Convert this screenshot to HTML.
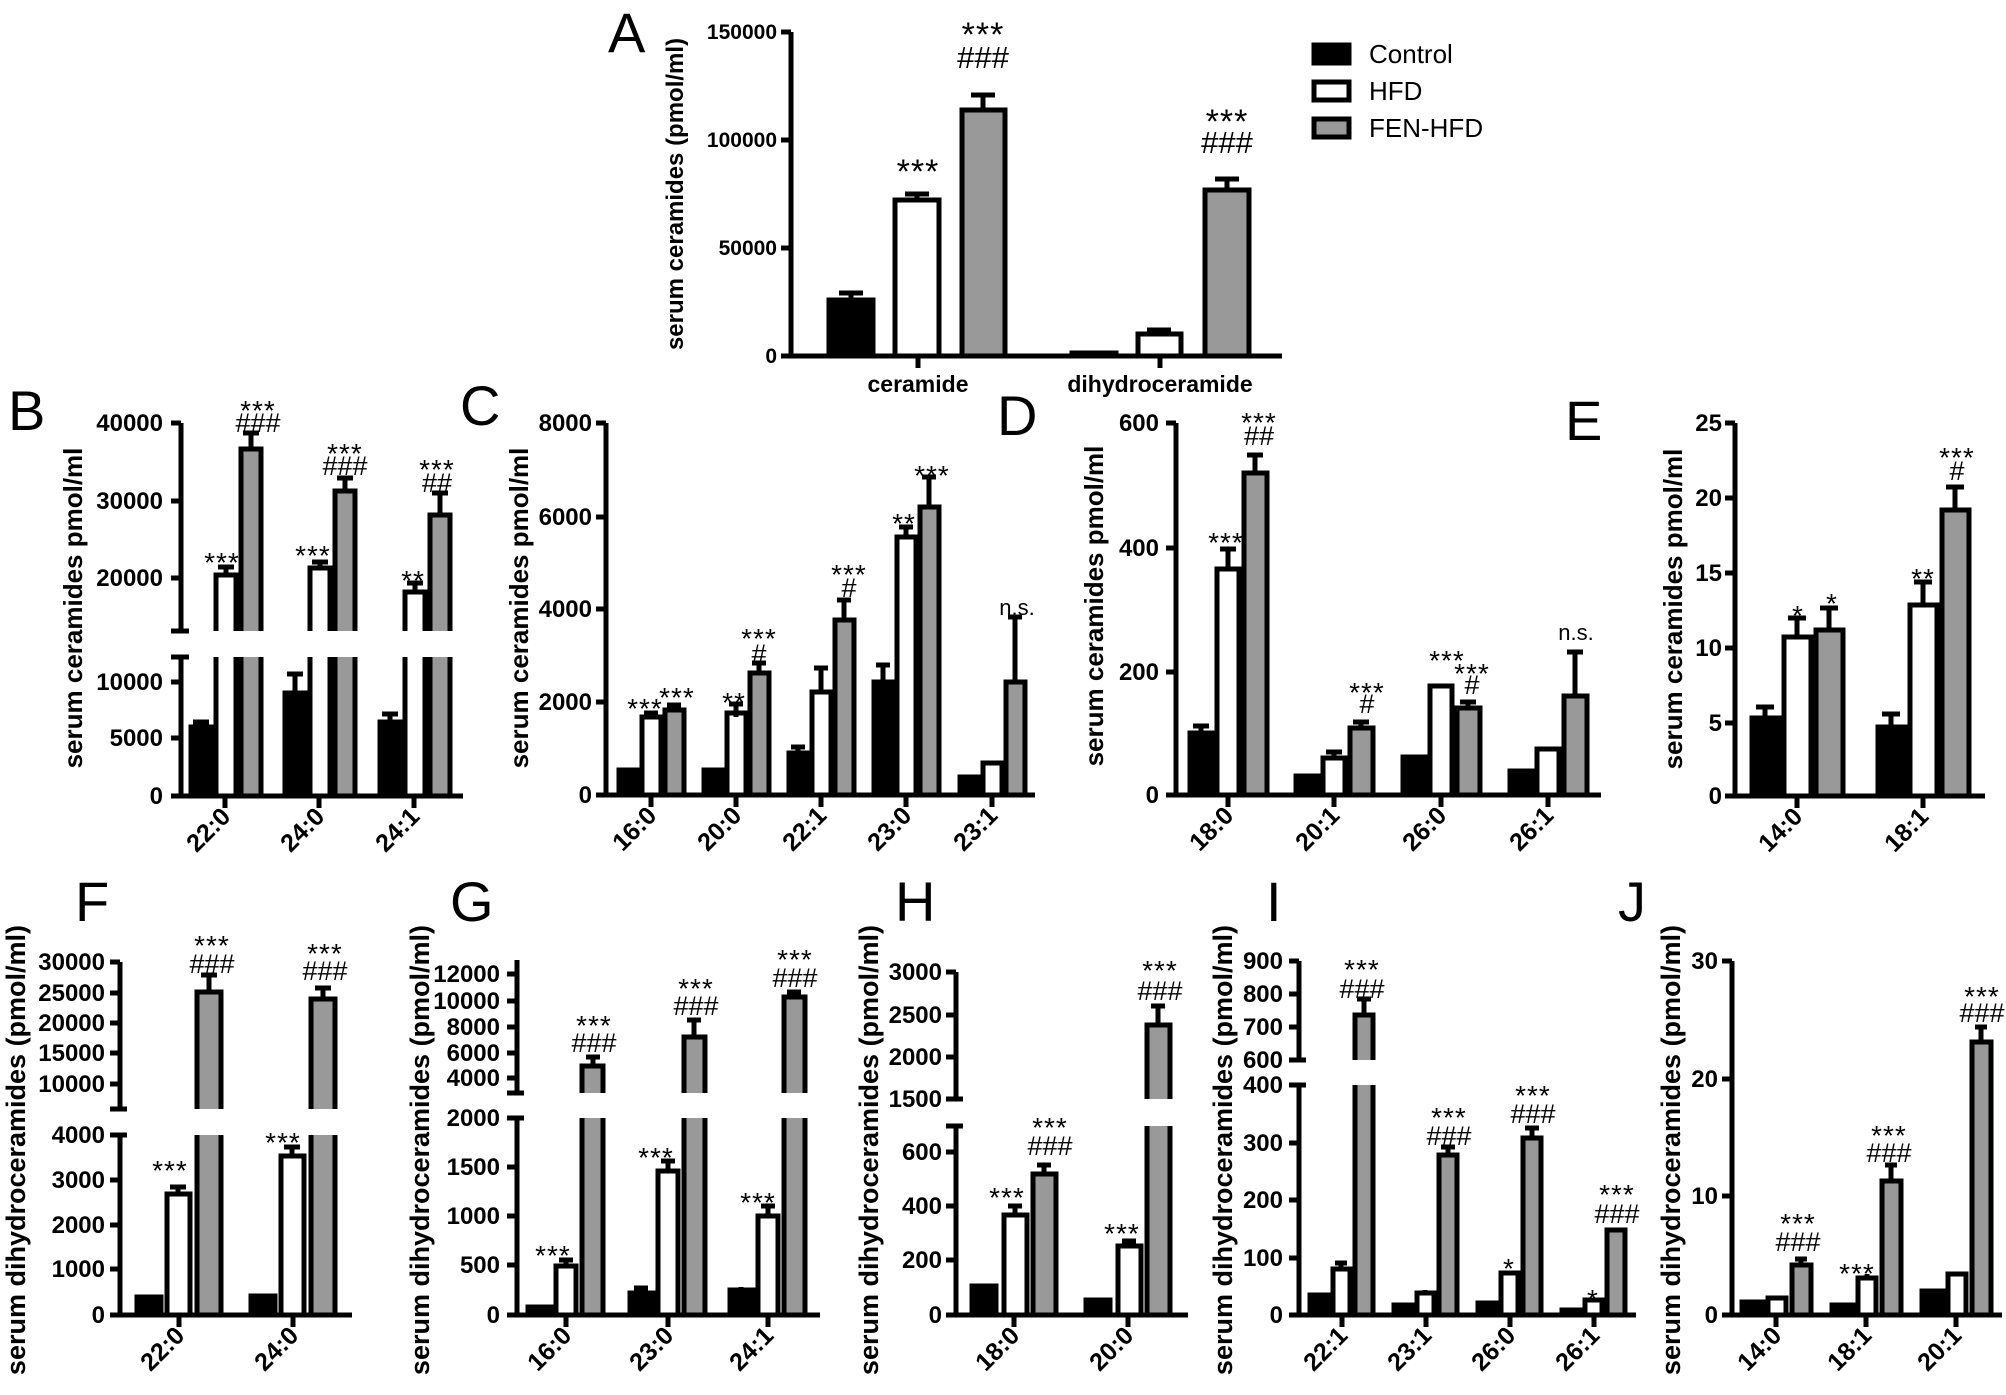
<!DOCTYPE html>
<html><head><meta charset="utf-8"><style>
html,body{margin:0;padding:0;background:#fff}
svg{display:block}
text{font-family:"Liberation Sans",Arial,sans-serif;fill:#000}
.c{fill:#000;stroke:#000;stroke-width:5}
.h{fill:#fff;stroke:#000;stroke-width:5}
.f{fill:#999;stroke:#000;stroke-width:5}
.e{stroke:#000;stroke-width:5;fill:none}
.ax{stroke:#000;stroke-width:5;fill:none}
.tl{font-size:24px;font-weight:bold;text-anchor:end}
.yt{font-size:26px;font-weight:bold;text-anchor:middle}
.yb{font-size:27px;font-weight:bold;text-anchor:middle}
.cat{font-size:25px;font-weight:bold;text-anchor:end}
.s{font-size:28px;text-anchor:middle;letter-spacing:1px}
.hs{font-size:27px;text-anchor:middle}
.L{font-size:56px}
.ns{font-size:22px;text-anchor:middle}
</style></head><body>
<svg width="2006" height="1395" viewBox="0 0 2006 1395" xmlns="http://www.w3.org/2000/svg">
<!-- ===== Panel A ===== -->
<text class="L" x="608" y="52">A</text>
<rect class="c" x="829" y="300" width="44" height="56"/>
<rect class="h" x="895" y="200" width="44" height="156"/>
<rect class="f" x="962" y="110" width="43" height="246"/>
<rect class="c" x="1072" y="353" width="44" height="3"/>
<rect class="h" x="1138" y="334" width="43" height="22"/>
<rect class="f" x="1205" y="190" width="44" height="166"/>
<path class="e" d="M851 300V293M839 293H863M917 200V194M905 194H929M983 110V95M971 95H995M1094 353V351M1159 334V330M1147 330H1171M1227 190V179M1215 179H1239"/>
<path class="ax" d="M791 32V356H1282M781 32H791M781 140H791M781 248H791M781 356H791M918 356V368M1160 356V368"/>
<text class="tl" style="font-size:21px" x="777" y="39">150000</text>
<text class="tl" style="font-size:21px" x="777" y="147">100000</text>
<text class="tl" style="font-size:21px" x="777" y="255">50000</text>
<text class="tl" style="font-size:21px" x="777" y="363">0</text>
<text style="font-size:23px;font-weight:bold;text-anchor:middle" x="918" y="392">ceramide</text>
<text style="font-size:23px;font-weight:bold;text-anchor:middle" x="1160" y="392">dihydroceramide</text>
<text class="yt" style="font-size:24px" transform="translate(683,194) rotate(-90)">serum ceramides (pmol/ml)</text>
<text class="s" style="font-size:34px" x="918" y="183">***</text>
<text class="s" style="font-size:34px" x="983" y="46">***</text>
<text class="hs" style="font-size:31px" x="983" y="68">###</text>
<text class="s" style="font-size:34px" x="1227" y="133">***</text>
<text class="hs" style="font-size:31px" x="1227" y="153">###</text>
<!-- legend -->
<rect x="1314" y="45" width="35" height="18" fill="#000" stroke="#000" stroke-width="5"/>
<rect x="1314" y="82" width="35" height="18" fill="#fff" stroke="#000" stroke-width="5"/>
<rect x="1314" y="119" width="35" height="18" fill="#999" stroke="#000" stroke-width="5"/>
<text x="1369" y="63" style="font-size:26px">Control</text>
<text x="1369" y="100" style="font-size:26px">HFD</text>
<text x="1369" y="137" style="font-size:26px">FEN-HFD</text>

<!-- ===== Panel B ===== -->
<text class="L" x="8" y="430">B</text>
<rect class="c" x="191" y="727" width="20" height="69"/>
<rect class="h" x="216" y="575" width="20" height="221"/>
<rect class="f" x="241" y="449" width="20" height="347"/>
<rect class="c" x="285" y="693" width="20" height="103"/>
<rect class="h" x="310" y="568" width="20" height="228"/>
<rect class="f" x="335" y="491" width="20" height="305"/>
<rect class="c" x="380" y="722" width="20" height="74"/>
<rect class="h" x="405" y="592" width="20" height="204"/>
<rect class="f" x="430" y="515" width="20" height="281"/>
<path class="e" d="M201 727V722M193 722H209M226 575V567M218 567H234M251 449V433M243 433H259M295 693V674M287 674H303M320 568V562M312 562H328M345 491V478M337 478H353M390 722V714M382 714H398M415 592V583M407 583H423M440 515V493M432 493H448"/>
<rect x="160" y="631" width="320" height="26" fill="#fff"/>
<path class="ax" d="M181 423V631M181 657V796H463M171 423H181M171 501H181M171 578H181M171 631H189M171 657H189M171 682H181M171 738H181M171 796H181M225 796V808M319 796V808M414 796V808"/>
<text class="tl" x="163" y="431">40000</text>
<text class="tl" x="163" y="509">30000</text>
<text class="tl" x="163" y="586">20000</text>
<text class="tl" x="163" y="690">10000</text>
<text class="tl" x="163" y="746">5000</text>
<text class="tl" x="163" y="804">0</text>
<text class="yt" transform="translate(82,608) rotate(-90)">serum ceramides pmol/ml</text>
<text class="cat" transform="translate(232,818) rotate(-45)">22:0</text>
<text class="cat" transform="translate(326,818) rotate(-45)">24:0</text>
<text class="cat" transform="translate(421,818) rotate(-45)">24:1</text>
<text class="s" x="258" y="420">***</text><text class="hs" x="258" y="432">###</text>
<text class="s" x="222" y="572">***</text>
<text class="s" x="345" y="463">***</text><text class="hs" x="345" y="475">###</text>
<text class="s" x="313" y="565">***</text>
<text class="s" x="413" y="590">**</text>
<text class="s" x="437" y="479">***</text><text class="hs" x="437" y="492">##</text>

<!-- ===== Panel C ===== -->
<text class="L" x="460" y="425">C</text>
<rect class="c" x="619" y="770" width="19" height="25"/>
<rect class="h" x="642" y="717" width="19" height="78"/>
<rect class="f" x="665" y="710" width="19" height="85"/>
<rect class="c" x="704" y="770" width="19" height="25"/>
<rect class="h" x="727" y="713" width="19" height="82"/>
<rect class="f" x="750" y="673" width="19" height="122"/>
<rect class="c" x="789" y="753" width="19" height="42"/>
<rect class="h" x="812" y="692" width="19" height="103"/>
<rect class="f" x="835" y="620" width="19" height="175"/>
<rect class="c" x="874" y="682" width="19" height="113"/>
<rect class="h" x="897" y="537" width="19" height="258"/>
<rect class="f" x="920" y="507" width="19" height="288"/>
<rect class="c" x="960" y="777" width="19" height="18"/>
<rect class="h" x="983" y="763" width="19" height="32"/>
<rect class="f" x="1006" y="682" width="19" height="113"/>
<path class="e" d="M651 717V713M644 713H658M674 710V705M667 705H681M736 717V704M729 704H743M759 673V663M752 663H766M798 753V747M791 747H805M821 692V668M814 668H828M844 620V600M837 600H851M883 682V665M876 665H890M906 537V527M899 527H913M929 507V477M922 477H936M1015 682V617M1008 617H1022"/>
<path class="ax" d="M606 423V795H1035M596 423H606M596 517H606M596 609H606M596 702H606M596 795H606M651 795V807M736 795V807M821 795V807M906 795V807M992 795V807"/>
<text class="tl" x="592" y="431">8000</text>
<text class="tl" x="592" y="525">6000</text>
<text class="tl" x="592" y="617">4000</text>
<text class="tl" x="592" y="710">2000</text>
<text class="tl" x="592" y="803">0</text>
<text class="yt" transform="translate(528,608) rotate(-90)">serum ceramides pmol/ml</text>
<text class="cat" transform="translate(658,817) rotate(-45)">16:0</text>
<text class="cat" transform="translate(743,817) rotate(-45)">20:0</text>
<text class="cat" transform="translate(828,817) rotate(-45)">22:1</text>
<text class="cat" transform="translate(913,817) rotate(-45)">23:0</text>
<text class="cat" transform="translate(999,817) rotate(-45)">23:1</text>
<text class="s" x="645" y="718">***</text>
<text class="s" x="677" y="707">***</text>
<text class="s" x="734" y="712">**</text>
<text class="s" x="759" y="648">***</text><text class="hs" x="759" y="663">#</text>
<text class="s" x="849" y="584">***</text><text class="hs" x="849" y="597">#</text>
<text class="s" x="904" y="533">**</text>
<text class="s" x="932" y="485">***</text>
<text class="ns" x="1017" y="615">n.s.</text>

<!-- ===== Panel D ===== -->
<text class="L" x="997" y="435">D</text>
<rect class="c" x="1190" y="733" width="23" height="62"/>
<rect class="h" x="1217" y="569" width="22" height="226"/>
<rect class="f" x="1244" y="473" width="23" height="322"/>
<rect class="c" x="1296" y="776" width="23" height="19"/>
<rect class="h" x="1323" y="758" width="22" height="37"/>
<rect class="f" x="1350" y="728" width="23" height="67"/>
<rect class="c" x="1403" y="757" width="23" height="38"/>
<rect class="h" x="1430" y="686" width="22" height="109"/>
<rect class="f" x="1457" y="708" width="23" height="87"/>
<rect class="c" x="1510" y="771" width="23" height="24"/>
<rect class="h" x="1537" y="749" width="22" height="46"/>
<rect class="f" x="1564" y="696" width="23" height="99"/>
<path class="e" d="M1201 733V726M1193 726H1209M1228 569V549M1220 549H1236M1255 473V455M1247 455H1263M1334 758V752M1326 752H1342M1361 728V722M1353 722H1369M1468 708V702M1460 702H1476M1575 696V652M1567 652H1583"/>
<path class="ax" d="M1176 423V795H1601M1166 423H1176M1166 548H1176M1166 672H1176M1166 795H1176M1228 795V807M1334 795V807M1441 795V807M1548 795V807"/>
<text class="tl" x="1159" y="431">600</text>
<text class="tl" x="1159" y="556">400</text>
<text class="tl" x="1159" y="680">200</text>
<text class="tl" x="1159" y="803">0</text>
<text class="yt" transform="translate(1103,606) rotate(-90)">serum ceramides pmol/ml</text>
<text class="cat" transform="translate(1235,817) rotate(-45)">18:0</text>
<text class="cat" transform="translate(1341,817) rotate(-45)">20:1</text>
<text class="cat" transform="translate(1448,817) rotate(-45)">26:0</text>
<text class="cat" transform="translate(1555,817) rotate(-45)">26:1</text>
<text class="s" x="1226" y="552">***</text>
<text class="s" x="1259" y="432">***</text><text class="hs" x="1259" y="445">##</text>
<text class="s" x="1367" y="702">***</text><text class="hs" x="1367" y="713">#</text>
<text class="s" x="1447" y="670">***</text>
<text class="s" x="1472" y="683">***</text><text class="hs" x="1472" y="694">#</text>
<text class="ns" x="1576" y="640">n.s.</text>

<!-- ===== Panel E ===== -->
<text class="L" x="1565" y="440">E</text>
<rect class="c" x="1752" y="718" width="27" height="78"/>
<rect class="h" x="1784" y="637" width="27" height="159"/>
<rect class="f" x="1816" y="630" width="27" height="166"/>
<rect class="c" x="1878" y="727" width="27" height="69"/>
<rect class="h" x="1910" y="605" width="27" height="191"/>
<rect class="f" x="1942" y="510" width="27" height="286"/>
<path class="e" d="M1765 718V707M1756 707H1774M1797 637V618M1788 618H1806M1829 630V608M1820 608H1838M1891 727V714M1882 714H1900M1923 605V582M1914 582H1932M1955 510V487M1946 487H1964"/>
<path class="ax" d="M1735 423V796H1985M1725 423H1735M1725 498H1735M1725 573H1735M1725 648H1735M1725 723H1735M1725 796H1735M1797 796V808M1923 796V808"/>
<text class="tl" x="1722" y="431">25</text>
<text class="tl" x="1722" y="506">20</text>
<text class="tl" x="1722" y="581">15</text>
<text class="tl" x="1722" y="656">10</text>
<text class="tl" x="1722" y="731">5</text>
<text class="tl" x="1722" y="804">0</text>
<text class="yt" transform="translate(1682,609) rotate(-90)">serum ceramides pmol/ml</text>
<text class="cat" transform="translate(1804,818) rotate(-45)">14:0</text>
<text class="cat" transform="translate(1930,818) rotate(-45)">18:1</text>
<text class="s" x="1798" y="625">*</text>
<text class="s" x="1832" y="613">*</text>
<text class="s" x="1923" y="588">**</text>
<text class="s" x="1957" y="467">***</text><text class="hs" x="1957" y="480">#</text>

<!-- ===== Panel F ===== -->
<text class="L" x="75" y="921">F</text>
<rect class="c" x="137" y="1297" width="24" height="18"/>
<rect class="h" x="167" y="1194" width="23" height="121"/>
<rect class="f" x="197" y="992" width="24" height="323"/>
<rect class="c" x="251" y="1296" width="24" height="19"/>
<rect class="h" x="281" y="1156" width="23" height="159"/>
<rect class="f" x="311" y="999" width="24" height="316"/>
<path class="e" d="M178 1194V1187M170 1187H186M209 992V975M201 975H217M292 1156V1147M284 1147H300M323 999V988M315 988H331"/>
<rect x="100" y="1109" width="260" height="26" fill="#fff"/>
<path class="ax" d="M120 962V1109M120 1135V1315H352M110 962H120M110 993H120M110 1023H120M110 1053H120M110 1084H120M110 1109H127M110 1135H127M110 1180H120M110 1225H120M110 1269H120M110 1315H120M179 1315V1327M293 1315V1327"/>
<text class="tl" x="105" y="970">30000</text>
<text class="tl" x="105" y="1001">25000</text>
<text class="tl" x="105" y="1031">20000</text>
<text class="tl" x="105" y="1061">15000</text>
<text class="tl" x="105" y="1092">10000</text>
<text class="tl" x="105" y="1143">4000</text>
<text class="tl" x="105" y="1188">3000</text>
<text class="tl" x="105" y="1233">2000</text>
<text class="tl" x="105" y="1277">1000</text>
<text class="tl" x="105" y="1323">0</text>
<text class="yb" transform="translate(25,1150) rotate(-90)">serum dihydroceramides (pmol/ml)</text>
<text class="cat" transform="translate(186,1337) rotate(-45)">22:0</text>
<text class="cat" transform="translate(300,1337) rotate(-45)">24:0</text>
<text class="s" x="212" y="955">***</text><text class="hs" x="212" y="973">###</text>
<text class="s" x="325" y="963">***</text><text class="hs" x="325" y="980">###</text>
<text class="s" x="170" y="1180">***</text>
<text class="s" x="283" y="1152">***</text>

<!-- ===== Panel G ===== -->
<text class="L" x="450" y="921">G</text>
<rect class="c" x="528" y="1307" width="23" height="8"/>
<rect class="h" x="556" y="1266" width="20" height="49"/>
<rect class="f" x="582" y="1066" width="21" height="249"/>
<rect class="c" x="630" y="1293" width="23" height="22"/>
<rect class="h" x="658" y="1171" width="20" height="144"/>
<rect class="f" x="684" y="1037" width="21" height="278"/>
<rect class="c" x="730" y="1290" width="23" height="25"/>
<rect class="h" x="758" y="1216" width="20" height="99"/>
<rect class="f" x="784" y="997" width="21" height="318"/>
<path class="e" d="M566 1266V1260M559 1260H573M593 1066V1057M586 1057H600M641 1293V1288M634 1288H648M668 1171V1161M661 1161H675M694 1037V1020M687 1020H701M741 1290V1287M768 1216V1206M761 1206H775M794 997V992M787 992H801"/>
<rect x="500" y="1093" width="330" height="25" fill="#fff"/>
<path class="ax" d="M517 960V1093M517 1118V1315H820M507 974H517M507 1001H517M507 1027H517M507 1053H517M507 1078H517M507 1093H524M507 1118H524M507 1167H517M507 1216H517M507 1265H517M507 1315H517M566 1315V1327M668 1315V1327M768 1315V1327"/>
<text class="tl" x="500" y="982">12000</text>
<text class="tl" x="500" y="1009">10000</text>
<text class="tl" x="500" y="1035">8000</text>
<text class="tl" x="500" y="1061">6000</text>
<text class="tl" x="500" y="1086">4000</text>
<text class="tl" x="500" y="1126">2000</text>
<text class="tl" x="500" y="1175">1500</text>
<text class="tl" x="500" y="1224">1000</text>
<text class="tl" x="500" y="1273">500</text>
<text class="tl" x="500" y="1323">0</text>
<text class="yb" transform="translate(429,1150) rotate(-90)">serum dihydroceramides (pmol/ml)</text>
<text class="cat" transform="translate(573,1337) rotate(-45)">16:0</text>
<text class="cat" transform="translate(675,1337) rotate(-45)">23:0</text>
<text class="cat" transform="translate(775,1337) rotate(-45)">24:1</text>
<text class="s" x="553" y="1265">***</text>
<text class="s" x="656" y="1167">***</text>
<text class="s" x="758" y="1212">***</text>
<text class="s" x="594" y="1035">***</text><text class="hs" x="594" y="1052">###</text>
<text class="s" x="696" y="998">***</text><text class="hs" x="696" y="1015">###</text>
<text class="s" x="795" y="969">***</text><text class="hs" x="795" y="987">###</text>

<!-- ===== Panel H ===== -->
<text class="L" x="895" y="921">H</text>
<rect class="c" x="972" y="1286" width="24" height="29"/>
<rect class="h" x="1004" y="1215" width="23" height="100"/>
<rect class="f" x="1033" y="1174" width="23" height="141"/>
<rect class="c" x="1086" y="1300" width="24" height="15"/>
<rect class="h" x="1118" y="1246" width="23" height="69"/>
<rect class="f" x="1147" y="1025" width="23" height="290"/>
<path class="e" d="M1015 1215V1206M1008 1206H1022M1044 1174V1165M1037 1165H1051M1129 1246V1241M1122 1241H1136M1158 1025V1006M1151 1006H1165"/>
<rect x="940" y="1099" width="260" height="27" fill="#fff"/>
<path class="ax" d="M956 972V1099M956 1126V1315H1188M946 972H956M946 1015H956M946 1057H956M946 1099H963M946 1126H963M946 1152H956M946 1206H956M946 1260H956M946 1315H956M1014 1315V1327M1128 1315V1327"/>
<text class="tl" x="942" y="980">3000</text>
<text class="tl" x="942" y="1023">2500</text>
<text class="tl" x="942" y="1065">2000</text>
<text class="tl" x="942" y="1107">1500</text>
<text class="tl" x="942" y="1160">600</text>
<text class="tl" x="942" y="1214">400</text>
<text class="tl" x="942" y="1268">200</text>
<text class="tl" x="942" y="1323">0</text>
<text class="yb" transform="translate(878,1150) rotate(-90)">serum dihydroceramides (pmol/ml)</text>
<text class="cat" transform="translate(1021,1337) rotate(-45)">18:0</text>
<text class="cat" transform="translate(1135,1337) rotate(-45)">20:0</text>
<text class="s" x="1007" y="1207">***</text>
<text class="s" x="1050" y="1137">***</text><text class="hs" x="1050" y="1155">###</text>
<text class="s" x="1122" y="1243">***</text>
<text class="s" x="1160" y="980">***</text><text class="hs" x="1160" y="1000">###</text>

<!-- ===== Panel I ===== -->
<text class="L" x="1266" y="921">I</text>
<rect class="c" x="1310" y="1295" width="18" height="20"/>
<rect class="h" x="1333" y="1269" width="17" height="46"/>
<rect class="f" x="1355" y="1015" width="18" height="300"/>
<rect class="c" x="1394" y="1305" width="18" height="10"/>
<rect class="h" x="1417" y="1293" width="17" height="22"/>
<rect class="f" x="1439" y="1155" width="18" height="160"/>
<rect class="c" x="1478" y="1303" width="18" height="12"/>
<rect class="h" x="1501" y="1273" width="17" height="42"/>
<rect class="f" x="1523" y="1138" width="18" height="177"/>
<rect class="c" x="1562" y="1310" width="18" height="5"/>
<rect class="h" x="1585" y="1300" width="17" height="15"/>
<rect class="f" x="1607" y="1230" width="18" height="85"/>
<path class="e" d="M1341 1269V1263M1335 1263H1347M1364 1015V999M1357 999H1371M1425 1293V1290M1448 1155V1147M1441 1147H1455M1532 1138V1128M1525 1128H1539"/>
<rect x="1285" y="1060" width="360" height="25" fill="#fff"/>
<path class="ax" d="M1299 961V1060M1299 1085V1315H1636M1289 961H1299M1289 994H1299M1289 1027H1299M1289 1060H1306M1289 1085H1306M1289 1143H1299M1289 1200H1299M1289 1258H1299M1289 1315H1299M1342 1315V1327M1426 1315V1327M1510 1315V1327M1594 1315V1327"/>
<text class="tl" x="1283" y="969">900</text>
<text class="tl" x="1283" y="1002">800</text>
<text class="tl" x="1283" y="1035">700</text>
<text class="tl" x="1283" y="1068">600</text>
<text class="tl" x="1283" y="1093">400</text>
<text class="tl" x="1283" y="1151">300</text>
<text class="tl" x="1283" y="1208">200</text>
<text class="tl" x="1283" y="1266">100</text>
<text class="tl" x="1283" y="1323">0</text>
<text class="yb" transform="translate(1232,1150) rotate(-90)">serum dihydroceramides (pmol/ml)</text>
<text class="cat" transform="translate(1349,1337) rotate(-45)">22:1</text>
<text class="cat" transform="translate(1433,1337) rotate(-45)">23:1</text>
<text class="cat" transform="translate(1517,1337) rotate(-45)">26:0</text>
<text class="cat" transform="translate(1601,1337) rotate(-45)">26:1</text>
<text class="s" x="1362" y="979">***</text><text class="hs" x="1362" y="998">###</text>
<text class="s" x="1449" y="1127">***</text><text class="hs" x="1449" y="1145">###</text>
<text class="s" x="1533" y="1105">***</text><text class="hs" x="1533" y="1123">###</text>
<text class="s" x="1617" y="1204">***</text><text class="hs" x="1617" y="1223">###</text>
<text class="s" x="1509" y="1278">*</text>
<text class="s" x="1593" y="1309">*</text>

<!-- ===== Panel J ===== -->
<text class="L" x="1618" y="921">J</text>
<rect class="c" x="1742" y="1302" width="22" height="13"/>
<rect class="h" x="1768" y="1298" width="18" height="17"/>
<rect class="f" x="1792" y="1265" width="19" height="50"/>
<rect class="c" x="1832" y="1305" width="22" height="10"/>
<rect class="h" x="1858" y="1278" width="18" height="37"/>
<rect class="f" x="1882" y="1181" width="19" height="134"/>
<rect class="c" x="1922" y="1291" width="22" height="24"/>
<rect class="h" x="1948" y="1274" width="18" height="41"/>
<rect class="f" x="1972" y="1042" width="19" height="273"/>
<path class="e" d="M1801 1265V1259M1795 1259H1807M1867 1278V1274M1891 1181V1165M1885 1165H1897M1981 1042V1027M1975 1027H1987"/>
<path class="ax" d="M1732 961V1315H2002M1722 961H1732M1722 1079H1732M1722 1196H1732M1722 1315H1732M1776 1315V1327M1866 1315V1327M1956 1315V1327"/>
<text class="tl" x="1718" y="969">30</text>
<text class="tl" x="1718" y="1087">20</text>
<text class="tl" x="1718" y="1204">10</text>
<text class="tl" x="1718" y="1323">0</text>
<text class="yb" transform="translate(1680,1150) rotate(-90)">serum dihydroceramides (pmol/ml)</text>
<text class="cat" transform="translate(1783,1337) rotate(-45)">14:0</text>
<text class="cat" transform="translate(1873,1337) rotate(-45)">18:1</text>
<text class="cat" transform="translate(1963,1337) rotate(-45)">20:1</text>
<text class="s" x="1798" y="1233">***</text><text class="hs" x="1798" y="1251">###</text>
<text class="s" x="1857" y="1283">***</text>
<text class="s" x="1889" y="1145">***</text><text class="hs" x="1889" y="1162">###</text>
<text class="s" x="1982" y="1006">***</text><text class="hs" x="1982" y="1022">###</text>
</svg>
</body></html>
